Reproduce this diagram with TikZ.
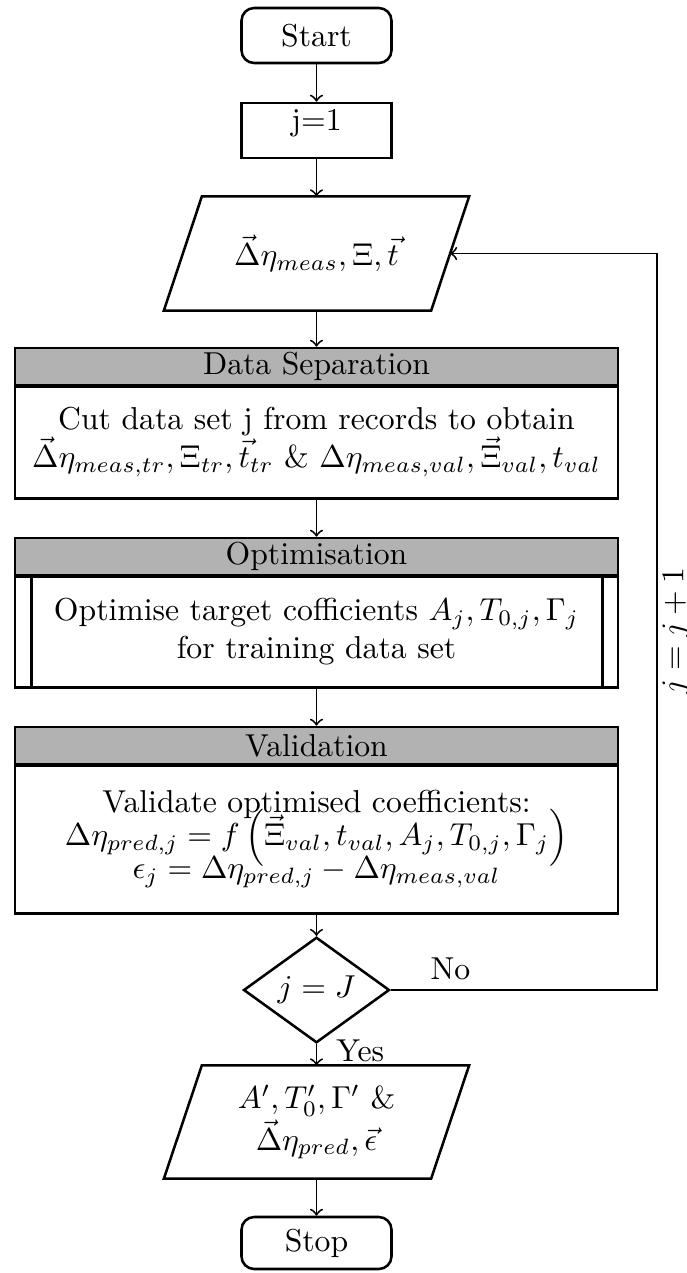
\documentclass[tikz,border=0pt]{standalone}
\usetikzlibrary{shapes.geometric}
\def\PX{0.3155pt}
\begin{document}
\begin{tikzpicture}[x=0.3155pt,y=-0.3155pt,
  term/.style={draw, thick, rounded corners=4pt, minimum width=150*\PX, minimum height=55*\PX, inner sep=0pt},
  procbox/.style={draw, thick, minimum width=150*\PX, minimum height=55*\PX, inner sep=0pt, text height=0pt, text depth=0pt},
  iobox/.style={minimum width=266*\PX, minimum height=113*\PX, inner sep=0pt, align=center},
  ioline/.style={draw, thick},
  headbox/.style={draw, thick, fill=black!30, minimum width=603*\PX, minimum height=37*\PX, inner sep=0pt},
  bodybox/.style={draw, thick, minimum width=603*\PX, inner sep=0pt, align=center},
  sepline/.style={line width=1.2pt},
  decision/.style={diamond, draw, thick, minimum width=146*\PX, minimum height=74*\PX, inner sep=0pt},
  flow/.style={->, semithick},
  lbl/.style={inner sep=0pt}
]
\useasboundingbox (0,0) rectangle (687,1273);

\node[term] (start) at (316.5,35.5) {Start};
\node[procbox] (init) at (316.5,130.5) {j=1};

\node[iobox] (in) at (316.5,253.5) {$\vec{\Delta}\eta_{meas}, \Xi, \vec{t}$};
\draw[ioline] ([xshift=19*\PX]in.north west) -- ([xshift=19*\PX]in.north east) -- ([xshift=-19*\PX]in.south east) -- ([xshift=-19*\PX]in.south west) -- cycle;

\node[headbox] (dsh) at (316.5,366.5) {Data Separation};
\node[bodybox, minimum height=113*\PX] (dsb) at (316.5,442) {Cut data set j from records to obtain\\ $\vec{\Delta}\eta_{meas,tr}, \Xi_{tr}, \vec{t}_{tr}$ \& $\Delta\eta_{meas,val}, \vec{\Xi}_{val}, t_{val}$};
\draw[sepline] (dsh.south west) -- (dsh.south east);

\node[headbox] (oph) at (316.5,556.5) {Optimisation};
\node[bodybox, minimum height=112*\PX] (opb) at (316.5,631.5) {Optimise target cofficients $A_j, T_{0,j}, \Gamma_j$\\ for training data set};
\draw[sepline] (oph.south west) -- (oph.south east);
\draw[thick] ([xshift=18*\PX]opb.north west) -- ([xshift=18*\PX]opb.south west);
\draw[thick] ([xshift=-17*\PX]opb.north east) -- ([xshift=-17*\PX]opb.south east);

\node[headbox] (vah) at (316.5,745.5) {Validation};
\node[bodybox, minimum height=149*\PX] (vab) at (316.5,839) {Validate optimised coefficients:\\[-4pt] $\Delta\eta_{pred,j} = f\left(\vec{\Xi}_{val}, t_{val}, A_j, T_{0,j}, \Gamma_j\right)$\\[-4pt] $\epsilon_j = \Delta\eta_{pred,j} - \Delta\eta_{meas,val}$};
\draw[sepline] (vah.south west) -- (vah.south east);

\node[decision] (dec) at (316.5,990) {$j = J$};

\node[iobox, minimum height=112*\PX] (out) at (316.5,1122) {$A', T_0', \Gamma'$ \&\\ $\vec{\Delta}\eta_{pred}, \vec{\epsilon}$};
\draw[ioline] ([xshift=19*\PX]out.north west) -- ([xshift=19*\PX]out.north east) -- ([xshift=-19*\PX]out.south east) -- ([xshift=-19*\PX]out.south west) -- cycle;

\node[term, minimum height=52*\PX] (stop) at (316.5,1243) {Stop};

\coordinate (loop) at (657,990);

\draw[flow] (start) -- (init);
\draw[flow] (init) -- (in);
\draw[flow] (in) -- (dsh);
\draw[flow] (dsb) -- (oph);
\draw[flow] (opb) -- (vah);
\draw[flow] (vab) -- (dec);
\draw[flow] (dec) -- node[lbl, pos=0.3, right=6pt] {Yes} (out);
\draw[flow] (dec.east) -- node[lbl, pos=0.224, above=3pt] {No} (loop) |- (in.east);
\draw[flow] (out) -- (stop);
\node[lbl, rotate=90] (inc) at (676,631) {$j = j + 1$};
\end{tikzpicture}
\end{document}
